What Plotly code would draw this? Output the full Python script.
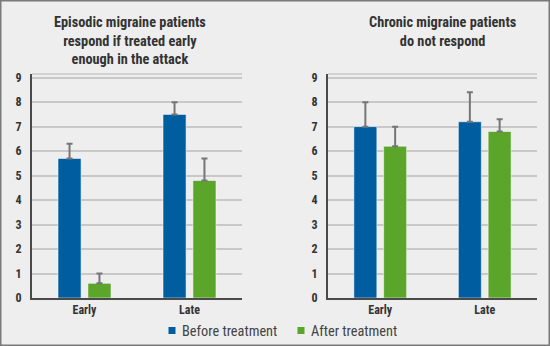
import plotly.graph_objects as go

categories = ["Early", "Late"]
episodic_before = [5.7, 7.5]
episodic_before_err = [0.6, 0.5]
episodic_after = [0.6, 4.8]
episodic_after_err = [0.4, 0.9]
chronic_before = [7.0, 7.2]
chronic_before_err = [1.0, 1.2]
chronic_after = [6.2, 6.8]
chronic_after_err = [0.8, 0.5]
y_ticks = list(range(0, 10))
titles = ["Episodic migraine patients<br>respond if treated early<br>enough in the attack",
          "Chronic migraine patients<br>do not respond"]
series_names = ["Before treatment", "After treatment"]

BLUE = "#005DA0"
GREEN = "#5AA52A"
ERR = "#767676"
BG = "#eeeeee"
FONT = "Roboto Condensed, DejaVu Sans Condensed, Liberation Sans Narrow, Roboto, sans-serif"

W, H = 550, 346
ML, MR, MT, MB = 32, 13, 74, 48
PW, PH = W - ML - MR, H - MT - MB

def px(x):
    return (x - ML) / PW

def py(y):
    return (H - MB - y) / PH

fig = go.Figure()

def add_bars(xa, ya, before, before_err, after, after_err):
    for vals, errs, color in [(before, before_err, BLUE), (after, after_err, GREEN)]:
        fig.add_trace(go.Bar(
            x=categories, y=vals, xaxis=xa, yaxis=ya,
            marker=dict(color=color, line=dict(color="rgba(255,255,255,0.5)", width=1)),
            error_y=dict(type="data", symmetric=False, array=errs,
                         arrayminus=[0] * len(errs), color=ERR, thickness=2, width=3),
            showlegend=False, hoverinfo="skip",
        ))

add_bars("x", "y", episodic_before, episodic_before_err, episodic_after, episodic_after_err)
add_bars("x2", "y2", chronic_before, chronic_before_err, chronic_after, chronic_after_err)

ax_common = dict(showgrid=False, showline=True, linecolor="#4a4a4a", linewidth=2,
                 ticks="", tickfont=dict(family=FONT, size=12, color="#333", weight="bold"),
                 fixedrange=True)
ay_common = dict(range=[0, 9.15], tickvals=y_ticks, showgrid=True, gridcolor="#c8c8c8",
                 gridwidth=1.5, showline=True, linecolor="#4a4a4a", linewidth=2,
                 zeroline=False, ticks="", ticklabelstandoff=6,
                 tickfont=dict(family=FONT, size=12, color="#333", weight="bold"),
                 fixedrange=True)

fig.update_layout(
    width=W, height=H,
    margin=dict(l=ML, r=MR, t=MT, b=MB),
    paper_bgcolor=BG, plot_bgcolor=BG,
    barmode="group", bargap=0.43, bargroupgap=0.23,
    xaxis=dict(domain=[0, px(242)], anchor="y", **ax_common),
    yaxis=dict(domain=[0, 1], anchor="x", **ay_common),
    xaxis2=dict(domain=[px(328), 1], anchor="y2", **ax_common),
    yaxis2=dict(domain=[0, 1], anchor="x2", **ay_common),
    showlegend=False,
)

# top frame lines of each plot
for xr, yr in [("x domain", "y domain"), ("x2 domain", "y2 domain")]:
    fig.add_shape(type="line", xref=xr, yref=yr, x0=0, x1=1, y0=1, y1=1,
                  line=dict(color="#c8c8c8", width=1.5))

# titles
fig.add_annotation(x=px(130), y=py(40), xref="paper", yref="paper", text="<b>" + titles[0] + "</b>",
                   showarrow=False, font=dict(family=FONT, size=14.3, color="#333"),
                   xanchor="center", yanchor="middle", align="center")
fig.add_annotation(x=px(442), y=py(31.5), xref="paper", yref="paper", text="<b>" + titles[1] + "</b>",
                   showarrow=False, font=dict(family=FONT, size=14.3, color="#333"),
                   xanchor="center", yanchor="middle", align="center")

# legend
for sx, tx, name, color in [(172, 180, series_names[0], BLUE), (301, 309, series_names[1], GREEN)]:
    fig.add_shape(type="rect", xref="paper", yref="paper",
                  x0=px(sx - 3.5), x1=px(sx + 3.5), y0=py(334), y1=py(327),
                  fillcolor=color, line=dict(width=0))
    fig.add_annotation(x=px(tx), y=py(330.5), xref="paper", yref="paper", text=name,
                       showarrow=False, font=dict(family=FONT, size=14.3, color="#444"),
                       xanchor="left", yanchor="middle")

# outer border
fig.add_shape(type="rect", xref="paper", yref="paper",
              x0=px(0), x1=px(W), y0=py(H), y1=py(0),
              line=dict(color="#7a7a7a", width=3), fillcolor="rgba(0,0,0,0)")

fig.write_html("out.html")
